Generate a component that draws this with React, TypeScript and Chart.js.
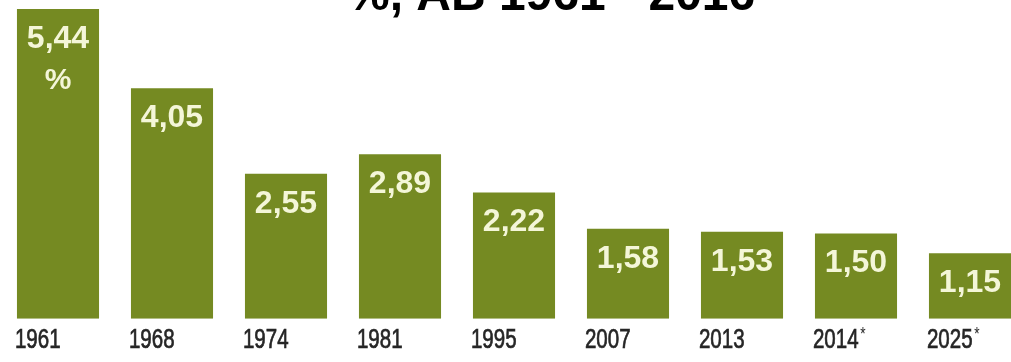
import React, { useEffect, useRef } from "react";
import { Chart, registerables } from "chart.js";

Chart.register(...registerables);

const titleText = "%, AB 1961 - 2016";
const categories = ["1961", "1968", "1974", "1981", "1995", "2007", "2013", "2014*", "2025*"];
const values = [5.44, 4.05, 2.55, 2.89, 2.22, 1.58, 1.53, 1.5, 1.15];
const valueLabels = ["5,44", "4,05", "2,55", "2,89", "2,22", "1,58", "1,53", "1,50", "1,15"];

const BAR_COLOR = "#758a22";
const LABEL_COLOR = "#f4f6d8";
const TICK_COLOR = "#262626";

const labelPlugin = {
  id: "barLabels",
  afterDatasetsDraw(chart: any) {
    const ctx = chart.ctx;
    const meta = chart.getDatasetMeta(0);
    ctx.save();
    ctx.fillStyle = LABEL_COLOR;
    ctx.textAlign = "center";
    ctx.textBaseline = "alphabetic";
    ctx.font = "bold 32px 'Liberation Sans', Arial, sans-serif";
    meta.data.forEach((bar: any, i: number) => {
      const y = bar.y + 39;
      ctx.fillText(valueLabels[i], bar.x, y);
      if (i === 0) {
        ctx.font = "bold 30px 'Liberation Sans', Arial, sans-serif";
        ctx.fillText("%", bar.x, y + 41);
        ctx.font = "bold 32px 'Liberation Sans', Arial, sans-serif";
      }
    });
    ctx.restore();
  },
  afterDraw(chart: any) {
    const ctx = chart.ctx;
    ctx.save();
    ctx.fillStyle = "#000";
    ctx.textAlign = "left";
    ctx.textBaseline = "alphabetic";
    ctx.font = "bold 48px 'Liberation Sans', Arial, sans-serif";
    ctx.fillText(titleText, 347, 10, 428);
    ctx.restore();

    // condensed category labels, placed with the x scale
    const xs = chart.scales.x;
    const meta = chart.getDatasetMeta(0);
    ctx.save();
    ctx.fillStyle = TICK_COLOR;
    ctx.strokeStyle = TICK_COLOR;
    ctx.lineWidth = 0.7;
    ctx.textAlign = "left";
    ctx.textBaseline = "alphabetic";
    categories.forEach((c, i) => {
      const bar: any = meta.data[i];
      const left = bar.x - bar.width / 2 - 2;
      const base = xs.top + 29;
      ctx.save();
      ctx.translate(left, base);
      ctx.scale(0.76, 1);
      ctx.font = "27px 'Liberation Sans', Arial, sans-serif";
      const star = c.endsWith("*");
      const main = star ? c.slice(0, -1) : c;
      ctx.fillText(main, 0, 0);
      ctx.strokeText(main, 0, 0);
      if (star) {
        const w = ctx.measureText(main).width;
        ctx.font = "18px 'Liberation Sans', Arial, sans-serif";
        ctx.fillText("*", w + 2, -8);
      }
      ctx.restore();
    });
    ctx.restore();
  },
};

export default function App() {
  const ref = useRef<HTMLCanvasElement>(null);
  useEffect(() => {
    document.body.style.margin = "0";
    document.body.style.overflow = "hidden";
    const chart = new Chart(ref.current!, {
      type: "bar",
      data: {
        labels: categories,
        datasets: [
          {
            data: values,
            backgroundColor: BAR_COLOR,
            barPercentage: 0.72,
            categoryPercentage: 1,
          },
        ],
      },
      options: {
        animation: false,
        responsive: false,
        maintainAspectRatio: false,
        layout: { padding: { left: 1, right: 3, top: 0, bottom: 0 } },
        plugins: { legend: { display: false }, tooltip: { enabled: false }, title: { display: false } },
        scales: {
          x: {
            grid: { display: false, drawTicks: false },
            border: { display: false },
            ticks: {
              color: "rgba(0,0,0,0)",
              padding: 6,
              font: { family: "'Liberation Sans', sans-serif", size: 26 },
              maxRotation: 0,
              autoSkip: false,
            },
          },
          y: { display: false, min: 0, max: 5.6 },
        },
      },
      plugins: [labelPlugin],
    });
    return () => chart.destroy();
  }, []);
  return (
    <div style={{ width: 1011, height: 362, overflow: "hidden", background: "#fff" }}>
      <canvas ref={ref} width={1030} height={362} style={{ display: "block" }} />
    </div>
  );
}
